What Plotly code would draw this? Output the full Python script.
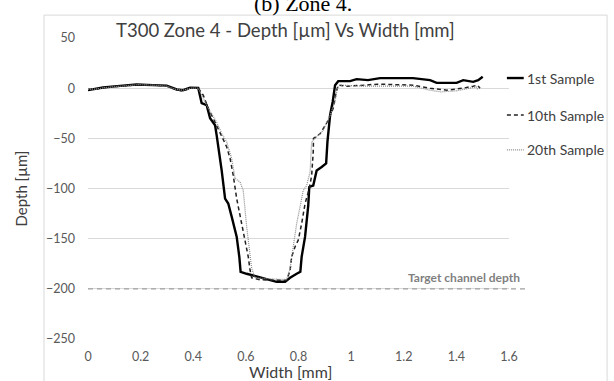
import plotly.graph_objects as go

# ---------------- data ----------------
width_1st = [0.000, 0.027, 0.057, 0.122, 0.185, 0.247, 0.299, 0.337, 0.361, 0.388, 0.419,
             0.432, 0.451, 0.464, 0.483, 0.489, 0.495, 0.508, 0.521, 0.533, 0.546, 0.565,
             0.575, 0.580, 0.603, 0.641, 0.679, 0.717, 0.749, 0.768, 0.793, 0.807, 0.812,
             0.825, 0.837, 0.841, 0.856, 0.869, 0.888, 0.905, 0.910, 0.920, 0.930, 0.939,
             0.951, 0.996, 1.021, 1.064, 1.110, 1.235, 1.300, 1.325, 1.401, 1.426, 1.464,
             1.483, 1.500]
depth_1st = [-2, -1, 0.7, 2.3, 3.7, 3, 2.5, -1.3, -2, 0.5, 0.3,
             -15, -17, -30, -37, -47, -60, -82, -110, -115, -128, -148,
             -168, -183, -185, -187.5, -190.5, -193, -193, -189, -185, -183, -168,
             -148, -117, -98.5, -97, -82, -78.5, -75, -53.5, -27, -13.5, 3,
             7, 7, 9, 8, 10, 10, 8, 5.3, 5.3, 8, 6.3,
             8, 11.3]

width_10th = [0.000, 0.030, 0.060, 0.120, 0.190, 0.250, 0.300, 0.330, 0.360, 0.390, 0.419,
              0.438, 0.457, 0.483, 0.508, 0.527, 0.540, 0.552, 0.565, 0.584, 0.597, 0.609,
              0.616, 0.622, 0.654, 0.704, 0.755, 0.768, 0.774, 0.787, 0.799, 0.812, 0.825,
              0.841, 0.850, 0.856, 0.857, 0.882, 0.913, 0.932, 0.943, 0.951, 0.983, 1.050,
              1.100, 1.235, 1.300, 1.364, 1.426, 1.464, 1.480, 1.490]
depth_10th = [-1, -1, 0.5, 2, 3.5, 3, 2, -1, -3, 0, 0,
              -7, -20, -34, -47, -58.5, -70, -87, -110, -135, -151.5, -168,
              -181.5, -189, -191, -191.5, -191.5, -181.5, -168, -158, -151.5, -135, -115,
              -100, -87, -63.5, -50, -45.5, -32, -20, -4, 3, 2, 3,
              4, 3, 0, -2, 0, 2, 3, 0]

width_20th = [0.000, 0.030, 0.060, 0.120, 0.190, 0.250, 0.300, 0.330, 0.360, 0.390, 0.419,
              0.451, 0.470, 0.489, 0.508, 0.527, 0.546, 0.559, 0.578, 0.590, 0.603, 0.613,
              0.622, 0.635, 0.679, 0.723, 0.755, 0.768, 0.780, 0.793, 0.806, 0.818, 0.831,
              0.844, 0.850, 0.875, 0.894, 0.920, 0.939, 0.948, 0.958, 1.050, 1.150, 1.235,
              1.300, 1.340, 1.400, 1.450, 1.475, 1.483]
depth_20th = [-1, -1, 0.5, 2, 3.5, 3, 2, -1, -2, 0, 0,
              -17, -25, -34, -45, -53.5, -70, -90, -93.5, -102, -138, -161.5,
              -179.5, -189, -190, -190.5, -190.5, -180, -158, -135, -118, -102, -97,
              -83.5, -53.5, -47, -42, -27, -13.5, 1, 3, 2, 2, 2,
              -2, -3.7, -2.7, 0, 1.3, -2]

series_names = ["1st Sample", "10th Sample", "20th Sample"]
target_depth = -200
target_label = "Target channel depth"
x_ticks = [0, 0.2, 0.4, 0.6, 0.8, 1, 1.2, 1.4, 1.6]
y_ticks = [50, 0, -50, -100, -150, -200, -250]

# ---------------- figure ----------------
FONT = "Lato"
TXT = "#404040"
styles = [dict(color="black", width=2.4, dash="solid"),
          dict(color="#222222", width=1.5, dash="4px,3px"),
          dict(color="#8c8c8c", width=1.2, dash="1px,1px")]
xs = [width_1st, width_10th, width_20th]
ys = [depth_1st, depth_10th, depth_20th]

fig = go.Figure()
for name, x, y, st in zip(series_names, xs, ys, styles):
    fig.add_trace(go.Scatter(x=x, y=y, mode="lines", name=name, line=st,
                             showlegend=False))

shapes = []
annotations = []

# target line (extends slightly past the plot area, as in the reference)
shapes.append(dict(type="line", xref="paper", yref="y", x0=0, x1=1.038,
                   y0=target_depth, y1=target_depth,
                   line=dict(color="#a0a0a0", width=1.4, dash="5px,4px")))
annotations.append(dict(text="<b>" + target_label + "</b>", xref="paper", yref="paper",
                        x=1.031, y=0.203, xanchor="right", yanchor="middle",
                        showarrow=False, font=dict(family=FONT, size=12, color="#7f7f7f")))

# manual legend
leg_y = [0.867, 0.744, 0.628]
for name, st, ly in zip(series_names, styles, leg_y):
    shapes.append(dict(type="line", xref="paper", yref="paper", x0=0.995, x1=1.035,
                       y0=ly, y1=ly, line=st))
    annotations.append(dict(text=name, xref="paper", yref="paper", x=1.038, y=ly,
                            xanchor="left", yanchor="middle", showarrow=False,
                            font=dict(family=FONT, size=14, color=TXT)))

# chart border
shapes.append(dict(type="rect", xref="paper", yref="paper", x0=-0.1045, x1=1.233,
                   y0=-0.2, y1=1.076, line=dict(color="#d9d9d9", width=1), layer="below"))

# titles
annotations.append(dict(text="T300 Zone 4 - Depth [µm] Vs Width [mm]", xref="paper",
                        yref="paper", x=0.470, y=1.027, xanchor="center", yanchor="middle",
                        showarrow=False, font=dict(family=FONT, size=18.5, color=TXT)))
annotations.append(dict(text="(b) Zone 4.", xref="paper", yref="paper", x=0.51, y=1.066,
                        xanchor="center", yanchor="bottom", showarrow=False,
                        font=dict(family="Liberation Serif", size=22, color="black")))
annotations.append(dict(text="Depth [µm]", xref="paper", yref="paper", x=-0.1615, y=0.50,
                        xanchor="center", yanchor="middle", textangle=-90, showarrow=False,
                        font=dict(family=FONT, size=15, color=TXT)))
annotations.append(dict(text="Width [mm]", xref="paper", yref="paper", x=0.48, y=-0.108,
                        xanchor="center", yanchor="middle", showarrow=False,
                        font=dict(family=FONT, size=16, color=TXT)))

fig.update_layout(
    width=614, height=381,
    margin=dict(l=88, r=105, t=38, b=42, pad=0),
    paper_bgcolor="white", plot_bgcolor="white",
    shapes=shapes, annotations=annotations,
    showlegend=False,
    xaxis=dict(range=[0, 1.6], tickvals=x_ticks, ticktext=[f"{v:g}" for v in x_ticks],
               showgrid=False, zeroline=False, showline=False, ticks="",
               ticklabelstandoff=8,
               tickfont=dict(family=FONT, size=12.5, color="#595959")),
    yaxis=dict(range=[-250, 50], tickvals=y_ticks, showgrid=True, gridcolor="#d9d9d9",
               gridwidth=1, zeroline=False, showline=False, ticks="",
               ticklabelstandoff=12,
               tickfont=dict(family=FONT, size=12.5, color="#595959")),
)

fig.write_html("out.html")
